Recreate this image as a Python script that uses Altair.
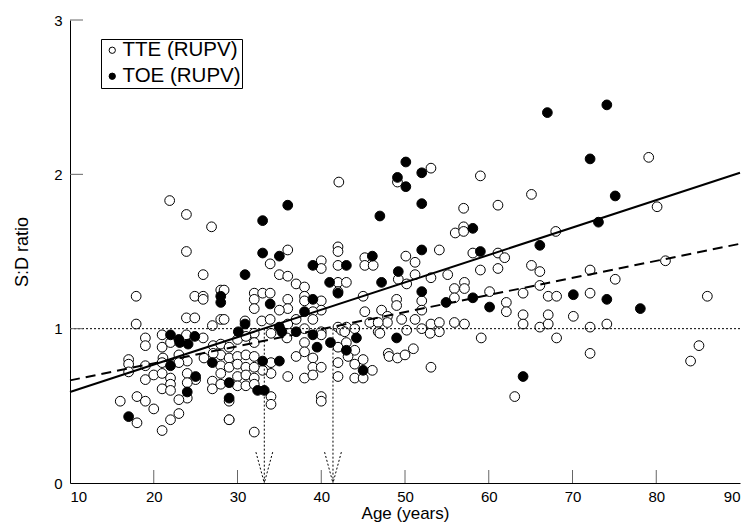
import altair as alt
import pandas as pd

# ---- data ----
tte_age = [21.9, 23.9, 26.9, 42.1, 49.1, 53.1, 56.0, 23.9, 36.0, 42.0, 42.0, 50.1, 54.1,
           79.1, 59.0, 65.1, 57.0, 61.1, 80.1, 68.0, 57.0, 57.0, 58.1, 61.1, 61.9,
           59.0, 61.1, 65.1, 66.1, 72.1, 81.1, 75.1, 66.1, 64.1, 67.1, 68.1, 72.1, 86.1, 60.1,
           62.1, 62.1, 57.1, 57.1, 64.1, 64.1, 66.1, 67.1, 67.1, 70.1, 72.1, 74.1, 57.1, 59.1, 68.1,
           72.1, 63.1, 85.1, 84.1,
           25.9, 17.9, 24.9, 25.9, 25.9, 28.0, 23.9, 24.9, 28.0, 17.9, 27.0, 19.0, 21.0, 23.9, 25.9,
           19.0, 21.0, 22.0, 27.1, 28.0, 28.0, 27.1, 23.0, 21.1, 17.0, 17.0, 17.0, 19.0, 21.0, 24.0,
           23.0, 26.0, 28.0, 19.0, 20.0, 21.0, 22.0, 22.0, 21.0, 22.0, 24.0, 25.0, 24.0, 27.0, 27.0,
           28.0, 24.0, 23.0, 16.0, 18.0, 19.0, 20.0, 18.0, 23.0, 22.0, 21.0, 29.0, 28.0,
           33.9, 35.0, 36.0, 37.0, 38.0, 38.0, 38.0, 40.0, 40.0, 42.0, 42.0, 32.0, 33.0, 33.9, 32.0,
           32.0, 36.0, 36.0, 35.0, 40.0, 40.0, 39.0, 30.9, 32.9, 33.9, 36.0, 37.0, 38.0, 39.0, 40.0,
           42.0, 28.4, 28.4, 32.0,
           30.0, 31.0, 32.0, 29.0, 34.0, 35.9, 40.0, 38.0, 38.0, 42.0, 37.0, 29.0, 30.0, 31.0, 32.0,
           34.0, 39.0, 39.0, 40.0, 34.0, 33.0, 29.0, 30.0, 31.0, 32.0, 36.0, 38.0, 39.0, 30.0, 31.0,
           32.0, 30.0, 31.0, 32.0, 29.0, 34.0, 34.0, 40.0, 40.0, 29.0, 32.0,
           45.2, 45.2, 46.2, 51.2, 49.2, 50.2, 51.2, 53.1, 55.1, 43.0, 42.0, 45.0, 55.9, 55.9, 52.0,
           52.0, 49.0, 49.0, 45.2, 47.2, 47.9, 47.9, 49.6, 51.2, 53.1, 54.1, 55.9, 43.0, 44.0, 45.8,
           46.8, 46.8, 50.2, 52.0, 54.1, 42.4,
           42.8, 43.0, 44.0, 43.2, 42.0, 44.0, 45.0, 46.1, 44.0, 45.0, 42.0, 47.0, 53.0, 48.0, 48.1,
           49.1, 50.0, 51.0, 53.1]
tte_ratio = [1.83, 1.74, 1.66, 1.95, 1.95, 2.04, 1.62, 1.50, 1.51, 1.53, 1.50, 1.47, 1.51,
             2.11, 1.99, 1.87, 1.78, 1.80, 1.79, 1.63, 1.66, 1.63, 1.49, 1.49, 1.46,
             1.38, 1.39, 1.41, 1.37, 1.38, 1.44, 1.32, 1.28, 1.23, 1.21, 1.21, 1.23, 1.21, 1.24,
             1.17, 1.11, 1.30, 1.26, 1.09, 1.03, 1.01, 1.09, 1.03, 1.08, 1.01, 1.03, 1.03, 0.94, 0.94,
             0.84, 0.56, 0.89, 0.79,
             1.35, 1.21, 1.21, 1.21, 1.19, 1.25, 1.07, 1.07, 1.06, 1.03, 1.02, 0.94, 0.96, 0.96, 0.94,
             0.89, 0.88, 0.91, 0.89, 0.90, 0.83, 0.84, 0.83, 0.81, 0.80, 0.77, 0.72, 0.76, 0.78, 0.79,
             0.78, 0.81, 0.76, 0.67, 0.70, 0.71, 0.68, 0.64, 0.61, 0.60, 0.71, 0.67, 0.65, 0.66, 0.61,
             0.64, 0.55, 0.54, 0.53, 0.56, 0.53, 0.48, 0.39, 0.45, 0.41, 0.34, 0.41, 0.71,
             1.42, 1.35, 1.34, 1.29, 1.27, 1.21, 1.18, 1.44, 1.39, 1.41, 1.30, 1.23, 1.23, 1.23, 1.19,
             1.13, 1.19, 1.13, 1.12, 1.18, 1.12, 1.11, 1.05, 1.05, 1.06, 1.03, 1.06, 1.00, 1.06, 0.98,
             1.01, 1.25, 1.06, 0.97,
             0.93, 0.95, 0.91, 0.88, 0.97, 0.94, 0.96, 0.91, 0.85, 0.88, 0.82, 0.81, 0.82, 0.83, 0.82,
             0.78, 0.81, 0.75, 0.75, 0.71, 0.73, 0.75, 0.77, 0.75, 0.75, 0.69, 0.68, 0.70, 0.69, 0.70,
             0.68, 0.63, 0.63, 0.64, 0.53, 0.56, 0.51, 0.56, 0.53, 0.41, 0.33,
             1.46, 1.41, 1.41, 1.43, 1.32, 1.29, 1.35, 1.33, 1.35, 1.30, 1.24, 1.21, 1.26, 1.20, 1.18,
             1.12, 1.19, 1.15, 1.11, 1.12, 1.08, 1.04, 1.06, 1.06, 1.03, 1.04, 1.04, 1.01, 1.00, 1.04,
             1.04, 0.98, 0.99, 1.00, 0.98, 0.99,
             0.98, 0.91, 0.86, 0.82, 0.78, 0.77, 0.80, 0.73, 0.68, 0.68, 0.69, 0.97, 0.97, 0.84, 0.82,
             0.81, 0.83, 0.87, 0.75]

toe_age = [33.0, 36.0, 47.0, 50.1, 49.1, 50.1, 52.0, 52.0, 33.0, 35.0, 46.1, 52.0,
           67.0, 74.1, 72.1, 75.1, 73.1, 58.1, 66.1, 59.0,
           70.1, 74.1, 78.1, 58.1, 60.1, 64.1,
           28.0, 28.0, 22.0, 23.0, 24.9, 23.1, 24.1, 27.0, 22.0, 25.0, 24.0, 17.0,
           30.9, 39.0, 41.0, 42.0, 33.9, 39.0, 38.0, 30.9, 35.0, 30.1,
           35.3, 37.0, 39.0, 41.1, 39.5, 33.0, 35.0, 29.0, 32.4, 33.2, 29.0,
           43.0, 49.2, 47.2, 52.0, 54.9, 44.2, 49.0, 43.0, 45.0]
toe_ratio = [1.70, 1.80, 1.73, 2.08, 1.98, 1.92, 2.01, 1.81, 1.49, 1.47, 1.47, 1.51,
             2.40, 2.45, 2.10, 1.86, 1.69, 1.65, 1.54, 1.50,
             1.22, 1.19, 1.13, 1.20, 1.14, 0.69,
             1.21, 1.17, 0.96, 0.93, 0.95, 0.91, 0.90, 0.78, 0.76, 0.69, 0.59, 0.43,
             1.35, 1.41, 1.30, 1.23, 1.16, 1.19, 1.11, 1.03, 1.01, 0.98,
             0.98, 0.98, 0.96, 0.91, 0.88, 0.79, 0.79, 0.65, 0.60, 0.60, 0.55,
             1.41, 1.37, 1.30, 1.24, 1.17, 0.94, 0.94, 0.86, 0.73]

series_names = ["TTE (RUPV)", "TOE (RUPV)"]
x_ticks = [10, 20, 30, 40, 50, 60, 70, 80, 90]
y_ticks = [0, 1, 2, 3]

solid_age = [10, 90]
solid_ratio = [0.59, 2.01]
dashed_age = [10, 90]
dashed_ratio = [0.665, 1.55]
ref_ratio = [1.0]
arrow_age = [33.2, 41.4]
arrow_top = 1.0
head_dx = 1.0
head_dy = 0.2

W, H = 670, 463
FONT = "Liberation Sans"

pts = pd.DataFrame({
    "age": tte_age + toe_age,
    "ratio": tte_ratio + toe_ratio,
    "group": [series_names[0]] * len(tte_age) + [series_names[1]] * len(toe_age),
})

xs = alt.Scale(domain=[10, 90], nice=False, zero=False)
ys = alt.Scale(domain=[0, 3], nice=False, zero=False)

xax = alt.Axis(values=x_ticks, format="d", ticks=False, grid=False, labelPadding=6, labelFontSize=15,
               labelFont=FONT, titleFont=FONT, titleFontSize=17, titleFontWeight="normal",
               titlePadding=1, domainColor="black", labelColor="black", titleColor="black")
yax = alt.Axis(values=y_ticks, format="d", ticks=False, grid=False, labelPadding=8, labelFontSize=15,
               labelFont=FONT, titleFont=FONT, titleFontSize=18, titleFontWeight="normal",
               titlePadding=22, domainColor="black", labelColor="black", titleColor="black")

points = alt.Chart(pts).mark_point(
    shape="circle", filled=True, size=95, stroke="black", strokeWidth=1, opacity=1
).encode(
    x=alt.X("age:Q", scale=xs, axis=xax, title="Age (years)"),
    y=alt.Y("ratio:Q", scale=ys, axis=yax, title="S:D ratio"),
    fill=alt.Fill("group:N", scale=alt.Scale(domain=series_names, range=["white", "black"]),
                  legend=alt.Legend(title=None, orient="none", legendX=31, legendY=19,
                                    strokeColor="black", fillColor="white", padding=1,
                                    rowPadding=5, labelFontSize=20.5, labelFont=FONT,
                                    labelColor="black", symbolType="circle", symbolSize=40,
                                    symbolStrokeColor="black", symbolStrokeWidth=1,
                                    labelOffset=0, cornerRadius=0)),
)

ref = alt.Chart(pd.DataFrame({"r": ref_ratio})).mark_rule(
    color="black", strokeWidth=1, strokeDash=[2, 2]
).encode(y=alt.Y("r:Q", scale=ys))

solid = alt.Chart(pd.DataFrame({"age": solid_age, "ratio": solid_ratio})).mark_line(
    color="black", strokeWidth=2
).encode(x=alt.X("age:Q", scale=xs), y=alt.Y("ratio:Q", scale=ys))

dashed = alt.Chart(pd.DataFrame({"age": dashed_age, "ratio": dashed_ratio})).mark_line(
    color="black", strokeWidth=2, strokeDash=[10, 6]
).encode(x=alt.X("age:Q", scale=xs), y=alt.Y("ratio:Q", scale=ys))

arrows_df = pd.DataFrame({"age": arrow_age, "top": [arrow_top] * len(arrow_age),
                          "bottom": [0.0] * len(arrow_age)})
arrow_stem = alt.Chart(arrows_df).mark_rule(color="black", strokeWidth=1, strokeDash=[2, 2]).encode(
    x=alt.X("age:Q", scale=xs), y=alt.Y("top:Q", scale=ys), y2="bottom:Q")

heads = []
for a in arrow_age:
    heads.append({"x": a - head_dx, "y": head_dy, "x2": a, "y2": 0.0})
    heads.append({"x": a + head_dx, "y": head_dy, "x2": a, "y2": 0.0})
arrow_head = alt.Chart(pd.DataFrame(heads)).mark_rule(color="black", strokeWidth=1, strokeDash=[2, 2]).encode(
    x=alt.X("x:Q", scale=xs), y=alt.Y("y:Q", scale=ys), x2="x2:Q", y2="y2:Q")

tk = pd.DataFrame({"v": x_ticks[1:-1]})
xtick_marks = alt.Chart(tk).mark_rule(color="#666", strokeWidth=1).encode(
    x=alt.X("v:Q", scale=xs), y=alt.value(H), y2=alt.value(H - 13))
ytk = pd.DataFrame({"v": y_ticks[1:]})
ytick_marks = alt.Chart(ytk).mark_rule(color="#666", strokeWidth=1).encode(
    y=alt.Y("v:Q", scale=ys), x=alt.value(0), x2=alt.value(13))

chart = alt.layer(points, ref, arrow_stem, arrow_head, solid, dashed, xtick_marks, ytick_marks).properties(
    width=W, height=H,
    autosize=alt.AutoSizeParams(type="none"),
    padding={"left": 62, "top": 12, "right": 4, "bottom": 40},
).configure_view(stroke=None).configure_axis(domainWidth=1)

chart.save("out.html", embed_options={"renderer": "svg", "actions": False})
